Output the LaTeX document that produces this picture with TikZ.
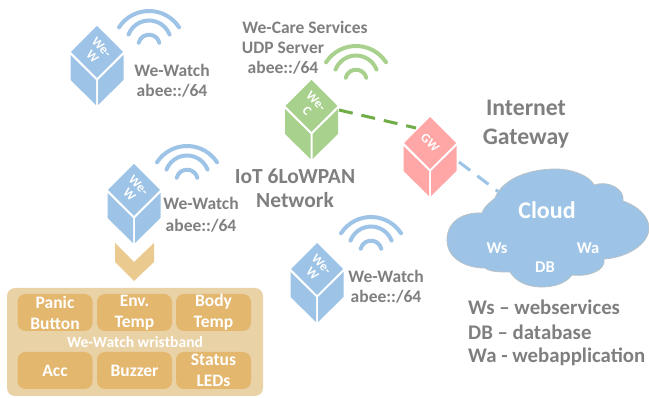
\documentclass[tikz,border=0pt]{standalone}
\usepackage{fontspec}
\setmainfont{Carlito}
\usetikzlibrary{calc}
\definecolor{cblue}{HTML}{9DC3E6}
\definecolor{cgreen}{HTML}{A9D18E}
\definecolor{cpink}{HTML}{FFA7A7}
\definecolor{cgray}{HTML}{7F7F7F}
\definecolor{dgreen}{HTML}{70AD47}
\definecolor{band}{HTML}{E9D2A6}
\definecolor{slot}{HTML}{E4B76E}
\definecolor{chev}{HTML}{EBCA90}
\definecolor{cloudedge}{HTML}{B9C2C6}
\newcommand{\pxfont}[1]{\fontsize{#1}{#1}\selectfont\bfseries}
\tikzset{
  x=1pt,y=-1pt,
  lab/.style={text=cgray,font=\pxfont{17.5},inner sep=0,align=center},
  big/.style={text=cgray,font=\pxfont{21.5},inner sep=0,align=center},
  huge/.style={text=cgray,font=\pxfont{23.7},inner sep=0,align=center},
  legend/.style={text=cgray,font=\pxfont{20.8},inner sep=0,anchor=west},
  ctext/.style={text=white,font=\pxfont{16.5},inner sep=0,align=center},
  cubetext/.style={text=white,font=\pxfont{13},inner sep=0,align=center,rotate=-45},
  slotbox/.style={fill=slot,rounded corners=8pt,minimum height=37pt,text=white,font=\fontsize{17.5}{21}\selectfont\bfseries,align=center,inner sep=0,text width=75pt},
  wire/.style={line width=3pt,dash pattern=on 14pt off 9pt},
  wave/.style={line width=4pt,line cap=round},
  pics/cube/.style={code={
    \path[fill=#1] (0,-26) -- (26,0) -- (0,26) -- (-26,0) -- cycle;
    \path[fill=#1] (-26.5,3) -- (-1,28) -- (-1,53) -- (-26.5,28) -- cycle;
    \path[fill=#1] (26.5,3) -- (1,28) -- (1,53) -- (26.5,28) -- cycle;
  }},
  pics/wifi/.style={code={
    \draw[wave,#1] (-30,16.3) arc[start angle=213,end angle=327,radius=35.8];
    \draw[wave,#1] (-20.5,23.6) arc[start angle=201,end angle=339,radius=22];
    \draw[wave,#1] (-10.3,31.7) arc[start angle=194,end angle=346,radius=10.6];
  }}
}
\begin{document}
\begin{tikzpicture}
\useasboundingbox (0,0) rectangle (649,398);
% connectors
\coordinate (wecport) at (339,110);
\coordinate (gwinA) at (416,128);
\coordinate (gwoutB) at (459,162);
\coordinate (cloudin) at (500,193);
\draw[wire,dgreen] (wecport) -- (gwinA);
\draw[wire,cblue] (gwoutB) -- (cloudin);
% cubes
\pic at (97,52) {cube=cblue};
\node[cubetext] (w1) at (97,52) {We-\\W};
\pic at (311.5,106) {cube=cgreen};
\node[cubetext] (wec) at (311.5,106) {We-\\C};
\pic at (430,143) {cube=cpink};
\node[cubetext] (gw) at (430,143) {GW};
\pic at (134,190) {cube=cblue};
\node[cubetext] (w2) at (134,190) {We-\\W};
\pic at (317,269) {cube=cblue};
\node[cubetext] (w3) at (317,269) {We-\\W};
% wifi
\pic at (149,11) {wifi=cblue};
\pic at (356,46) {wifi=cgreen};
\pic at (187,146) {wifi=cblue};
\pic at (371,217) {wifi=cblue};
% labels
\node[lab] (l1) at (172,81) {We-Watch\\[2.5pt]abee::/64};
\node[lab,anchor=base] (l2a) at (305,34) {We-Care Services};
\node[lab,anchor=base] (l2b) at (283,54) {UDP Server};
\node[lab,anchor=base] (l2c) at (283,74) {abee::/64};
\node[big] (iot) at (295,188) {IoT 6LoWPAN\\[2.5pt]Network};
\node[huge] (inet) at (526,124) {Internet\\[5.3pt]Gateway};
\node[lab] (l3) at (201,215) {We-Watch\\[4.5pt]abee::/64};
\node[lab] (l4) at (386,287) {We-Watch\\[2.5pt]abee::/64};
% cloud
\path[fill=cblue,draw=cloudedge,line width=.8pt]
 (495,198) .. controls (503,178) and (530,169) .. (556,169)
 .. controls (572,169) and (590,176) .. (594,185)
 .. controls (610,180) and (625,190) .. (623,201)
 .. controls (640,207) and (649,218) .. (649,228)
 .. controls (649,245) and (625,258) .. (604,259)
 .. controls (606,270) and (590,277) .. (572,275)
 .. controls (565,285) and (550,287) .. (542,287)
 .. controls (525,287) and (515,280) .. (510,272)
 .. controls (500,272) and (490,272) .. (485,268)
 .. controls (465,268) and (447,258) .. (447,240)
 .. controls (447,220) and (465,212) .. (482,213)
 .. controls (485,205) and (490,203) .. (495,198) -- cycle;
\node[ctext,font=\pxfont{24}] (cloud) at (547,210) {Cloud};
\node[ctext] (ws) at (497,248) {Ws};
\node[ctext] (db) at (545,267) {DB};
\node[ctext] (wa) at (588,248) {Wa};
% legend
\node[legend] (la) at (468,307) {Ws – webservices};
\node[legend] (lb) at (468,332) {DB – database};
\node[legend] (lc) at (468,357) {Wa - webapplication};
% chevron
\path[fill=chev] (115,243) -- (134,262) -- (154,243) -- (154,262) -- (134,281) -- (115,262) -- cycle;
% wristband
\path[fill=band,rounded corners=8pt] (7,288) rectangle (263,396);
\node[slotbox] (p) at (55,312.5) {Panic\\Button};
\node[slotbox] (e) at (134.5,312.5) {Env.\\Temp};
\node[slotbox] (b) at (213.5,312.5) {Body\\Temp};
\node[slotbox] (a) at (55,370.5) {Acc};
\node[slotbox] (z) at (134.5,370.5) {Buzzer};
\node[slotbox] (s) at (213.5,370.5) {Status\\LEDs};
\node[ctext,font=\pxfont{15.6}] (wb) at (135,342) {We-Watch wristband};
\end{tikzpicture}
\end{document}
